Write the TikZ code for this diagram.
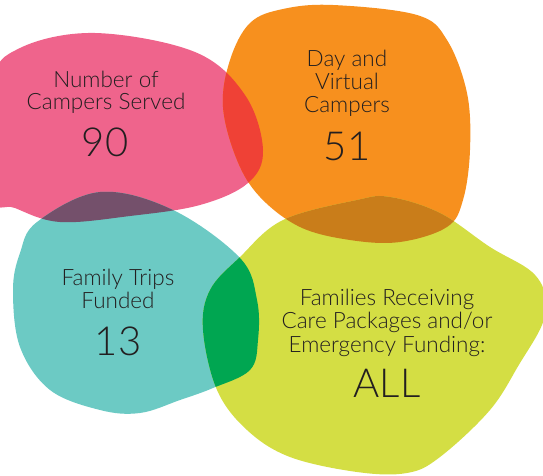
\documentclass[tikz,border=0pt]{standalone}
\usepackage{fontspec}
\setmainfont{Lato Light}
\definecolor{pinkc}{HTML}{EF648C}
\definecolor{orangec}{HTML}{F7901E}
\definecolor{tealc}{HTML}{6CCAC4}
\definecolor{yellowc}{HTML}{D4DE44}
\definecolor{redc}{HTML}{EF4136}
\definecolor{purplec}{HTML}{74506B}
\definecolor{brownc}{HTML}{C97D1A}
\definecolor{greenc}{HTML}{00A651}
\definecolor{txtc}{HTML}{231F20}
\newcommand\pinkpath{plot[smooth cycle,tension=0.6] coordinates {(-8,84) (20,48) (95,33) (195,52) (245,95) (263,150) (248,183) (200,205) (130,216) (60,222) (15,208) (-8,195)}}
\newcommand\orangepath{plot[smooth cycle,tension=0.6] coordinates {(283,9) (333,5) (417,15) (447,40) (467,93) (470,150) (463,200) (447,227) (400,242) (350,240) (300,227) (260,197) (237,160) (223,107) (230,60) (250,23)}}
\newcommand\tealpath{plot[smooth cycle,tension=0.6] coordinates {(37,222) (100,192) (173,210) (240,258) (257,300) (258,340) (250,370) (213,388) (180,400) (140,413) (100,410) (50,390) (20,347) (13,290) (20,253)}}
\newcommand\yellowpath{plot[smooth cycle,tension=0.6] coordinates {(283,220) (357,200) (390,197) (440,213) (490,247) (532,272) (546,298) (542,325) (520,363) (490,410) (440,457) (407,473) (357,472) (290,457) (247,430) (217,390) (203,330) (210,290) (240,257)}}
\tikzset{
  lbl/.style={text=txtc, align=center, inner sep=0pt, anchor=base, font=\fontsize{22.5}{23}\selectfont},
  num/.style={text=txtc, inner sep=0pt, anchor=base, font=\fontsize{40}{40}\selectfont},
}
\begin{document}
\begin{tikzpicture}[x=1pt,y=-1pt]
\useasboundingbox (0,0) rectangle (543,476);
\clip (0,0) rectangle (543,476);
\fill[pinkc] \pinkpath;
\fill[orangec] \orangepath;
\fill[tealc] \tealpath;
\fill[yellowc] \yellowpath;
\begin{scope}\clip \pinkpath; \fill[redc] \orangepath; \fill[purplec] \tealpath; \end{scope}
\begin{scope}\clip \orangepath; \fill[brownc] \yellowpath; \end{scope}
\begin{scope}\clip \tealpath; \fill[greenc] \yellowpath; \end{scope}
\node[lbl] (l1) at (106,88) {Number of};
\node[lbl] (l1b) at (106,110) {Campers Served};
\node[num] (n1) at (105,157) {90};
\node[lbl] (l2) at (347,67) {Day and};
\node[lbl] (l2b) at (347,90) {Virtual};
\node[lbl] (l2c) at (347,113) {Campers};
\node[num] (n2) at (347,160) {51};
\node[lbl] (l3) at (118,285) {Family Trips};
\node[lbl] (l3b) at (118,308) {Funded};
\node[num] (n3) at (118,355) {13};
\node[lbl] (l4) at (387,305) {Families Receiving};
\node[lbl] (l4b) at (387,328) {Care Packages and/or};
\node[lbl] (l4c) at (387,352) {Emergency Funding:};
\node[num] (n4) at (387,397) {ALL};
\end{tikzpicture}
\end{document}
